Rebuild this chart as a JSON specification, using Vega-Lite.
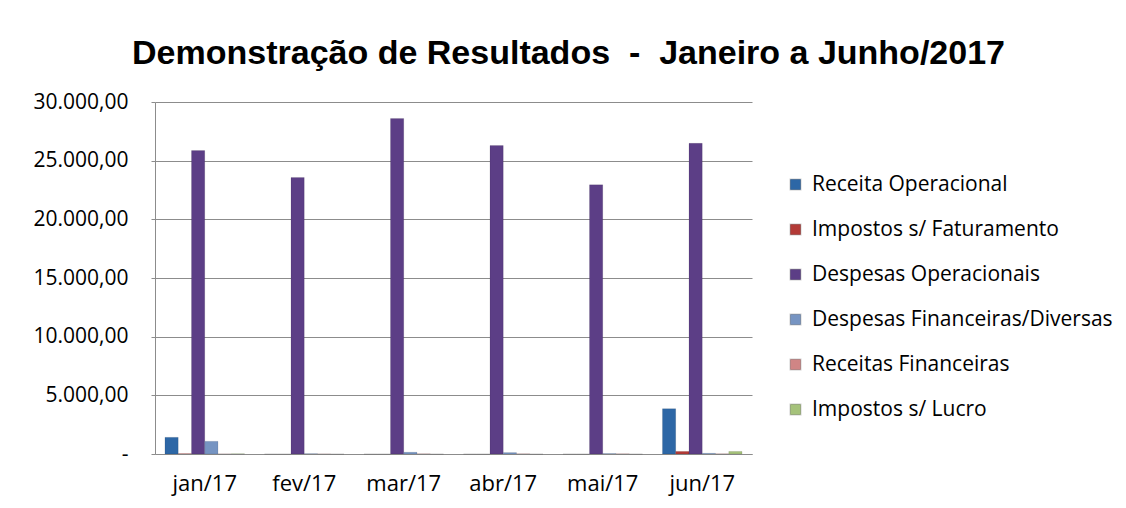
{
  "$schema": "https://vega.github.io/schema/vega-lite/v6.json",
  "width": 597,
  "height": 352,
  "padding": {"left": 32, "top": 37, "right": 10, "bottom": 10},
  "background": "white",
  "title": {
    "text": "Demonstração de Resultados \u00a0-\u00a0 Janeiro a Junho/2017",
    "font": "Liberation Sans",
    "fontSize": 34,
    "fontWeight": "bold",
    "color": "#000000",
    "anchor": "middle",
    "frame": "group",
    "dx": 115,
    "offset": 20
  },
  "config": {"view": {"stroke": null}},
  "data": {
    "values": [
      {"mes": "jan/17", "serie": "Receita Operacional", "valor": 1420},
      {"mes": "jan/17", "serie": "Impostos s/ Faturamento", "valor": 30},
      {"mes": "jan/17", "serie": "Despesas Operacionais", "valor": 25860},
      {"mes": "jan/17", "serie": "Despesas Financeiras/Diversas", "valor": 1080},
      {"mes": "jan/17", "serie": "Receitas Financeiras", "valor": 10},
      {"mes": "jan/17", "serie": "Impostos s/ Lucro", "valor": 20},
      {"mes": "fev/17", "serie": "Receita Operacional", "valor": 0},
      {"mes": "fev/17", "serie": "Impostos s/ Faturamento", "valor": 0},
      {"mes": "fev/17", "serie": "Despesas Operacionais", "valor": 23570},
      {"mes": "fev/17", "serie": "Despesas Financeiras/Diversas", "valor": 30},
      {"mes": "fev/17", "serie": "Receitas Financeiras", "valor": 10},
      {"mes": "fev/17", "serie": "Impostos s/ Lucro", "valor": 0},
      {"mes": "mar/17", "serie": "Receita Operacional", "valor": 0},
      {"mes": "mar/17", "serie": "Impostos s/ Faturamento", "valor": 0},
      {"mes": "mar/17", "serie": "Despesas Operacionais", "valor": 28600},
      {"mes": "mar/17", "serie": "Despesas Financeiras/Diversas", "valor": 150},
      {"mes": "mar/17", "serie": "Receitas Financeiras", "valor": 20},
      {"mes": "mar/17", "serie": "Impostos s/ Lucro", "valor": 0},
      {"mes": "abr/17", "serie": "Receita Operacional", "valor": 0},
      {"mes": "abr/17", "serie": "Impostos s/ Faturamento", "valor": 0},
      {"mes": "abr/17", "serie": "Despesas Operacionais", "valor": 26290},
      {"mes": "abr/17", "serie": "Despesas Financeiras/Diversas", "valor": 120},
      {"mes": "abr/17", "serie": "Receitas Financeiras", "valor": 20},
      {"mes": "abr/17", "serie": "Impostos s/ Lucro", "valor": 0},
      {"mes": "mai/17", "serie": "Receita Operacional", "valor": 0},
      {"mes": "mai/17", "serie": "Impostos s/ Faturamento", "valor": 0},
      {"mes": "mai/17", "serie": "Despesas Operacionais", "valor": 22940},
      {"mes": "mai/17", "serie": "Despesas Financeiras/Diversas", "valor": 40},
      {"mes": "mai/17", "serie": "Receitas Financeiras", "valor": 20},
      {"mes": "mai/17", "serie": "Impostos s/ Lucro", "valor": 0},
      {"mes": "jun/17", "serie": "Receita Operacional", "valor": 3860},
      {"mes": "jun/17", "serie": "Impostos s/ Faturamento", "valor": 220},
      {"mes": "jun/17", "serie": "Despesas Operacionais", "valor": 26480},
      {"mes": "jun/17", "serie": "Despesas Financeiras/Diversas", "valor": 60},
      {"mes": "jun/17", "serie": "Receitas Financeiras", "valor": 20},
      {"mes": "jun/17", "serie": "Impostos s/ Lucro", "valor": 220}
    ]
  },
  "mark": {"type": "bar", "stroke": "#00000030", "strokeWidth": 0.5},
  "encoding": {
    "x": {
      "field": "mes",
      "type": "nominal",
      "sort": ["jan/17", "fev/17", "mar/17", "abr/17", "mai/17", "jun/17"],
      "scale": {"paddingInner": 0.2, "paddingOuter": 0.1},
      "axis": {
        "title": null,
        "labelAngle": 0,
        "labelFont": "Open Sans",
        "labelFontSize": 22,
        "labelColor": "#000000",
        "ticks": false,
        "domain": true,
        "domainColor": "#8c8c8c",
        "labelPadding": 19
      }
    },
    "xOffset": {
      "field": "serie",
      "sort": ["Receita Operacional", "Impostos s/ Faturamento", "Despesas Operacionais", "Despesas Financeiras/Diversas", "Receitas Financeiras", "Impostos s/ Lucro"],
      "scale": {"paddingInner": 0, "paddingOuter": 0}
    },
    "y": {
      "field": "valor",
      "type": "quantitative",
      "scale": {"domain": [0, 30000]},
      "axis": {
        "title": null,
        "values": [0, 5000, 10000, 15000, 20000, 25000, 30000],
        "labelExpr": "datum.value == 0 ? '-      ' : replace(replace(replace(format(datum.value, ',.2f'), ',', '_'), '.', ','), '_', '.')",
        "grid": true,
        "gridColor": "#8c8c8c",
        "domainColor": "#8c8c8c",
        "tickColor": "#8c8c8c",
        "tickSize": 4,
        "labelPadding": 23,
        "labelFont": "Open Sans",
        "labelFontSize": 21,
        "labelColor": "#000000"
      }
    },
    "color": {
      "field": "serie",
      "type": "nominal",
      "scale": {
        "domain": ["Receita Operacional", "Impostos s/ Faturamento", "Despesas Operacionais", "Despesas Financeiras/Diversas", "Receitas Financeiras", "Impostos s/ Lucro"],
        "range": ["#2D67A6", "#B33A36", "#5C3E86", "#7694C2", "#D08585", "#A5C27A"]
      },
      "legend": {
        "title": null,
        "orient": "none",
        "legendX": 630,
        "legendY": 72,
        "symbolType": "square",
        "symbolSize": 110,
        "labelFont": "Open Sans",
        "labelFontSize": 21,
        "labelLimit": 500,
        "labelColor": "#000000",
        "rowPadding": 23,
        "labelOffset": 6
      }
    }
  }
}
